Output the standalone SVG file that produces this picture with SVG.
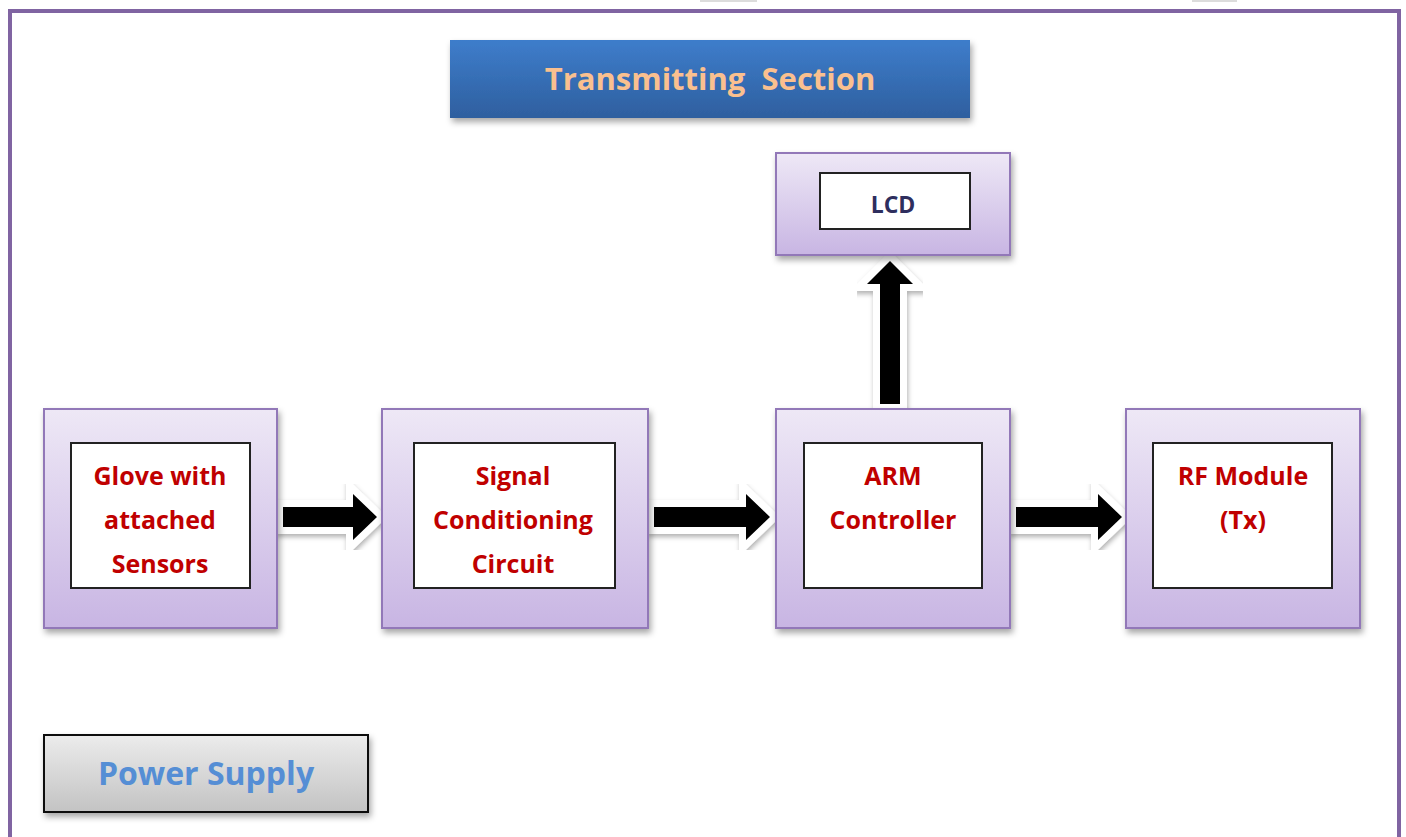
<svg xmlns="http://www.w3.org/2000/svg" width="1406" height="837" viewBox="0 0 1406 837">
<defs>
<linearGradient id="gPurple" x1="0" y1="0" x2="0" y2="1"><stop offset="0" stop-color="#eee8f6"/><stop offset="1" stop-color="#c8b5e3"/></linearGradient>
<linearGradient id="gBlue" x1="0" y1="0" x2="0" y2="1"><stop offset="0" stop-color="#3e7dcb"/><stop offset="1" stop-color="#2e5f9f"/></linearGradient>
<linearGradient id="gGray" x1="0" y1="0" x2="0" y2="1"><stop offset="0" stop-color="#ececec"/><stop offset="1" stop-color="#c3c3c3"/></linearGradient>
<filter id="sh" x="-10%" y="-10%" width="130%" height="130%"><feDropShadow dx="2" dy="4" stdDeviation="3" flood-color="#000" flood-opacity="0.35"/></filter>
<filter id="ash" x="-20%" y="-20%" width="140%" height="140%"><feDropShadow dx="1" dy="3" stdDeviation="2.5" flood-color="#000" flood-opacity="0.3"/></filter>
</defs>
<style>
.outer{fill:url(#gPurple);stroke:#9278b8;stroke-width:2;filter:url(#sh)}
.inner{fill:#fff;stroke:#222;stroke-width:2}
.lbl{font-family:"Open Sans","Liberation Sans",sans-serif;font-weight:bold;font-size:25px;fill:#c00000;text-anchor:middle}
.arrow{fill:#000;stroke:#fff;stroke-width:14;stroke-linejoin:miter;paint-order:stroke;filter:url(#ash)}
</style>
<rect width="1406" height="837" fill="#fff"/>
<rect x="700" y="0" width="57" height="2" fill="#dcdcdc"/>
<rect x="1192" y="0" width="45" height="2" fill="#dcdcdc"/>
<rect x="10" y="11" width="1389" height="840" fill="none" stroke="#8064a2" stroke-width="4"/>
<g id="title">
<rect x="450" y="40" width="520" height="78" fill="url(#gBlue)" filter="url(#sh)"/>
<text x="710" y="90" font-family="'Open Sans','Liberation Sans',sans-serif" font-weight="bold" font-size="31" fill="#fac08f" text-anchor="middle" xml:space="preserve">Transmitting  Section</text>
</g>
<g id="connectors">
<path class="arrow" d="M283,507 H353 V494 L377,517 L353,540 V527 H283 Z"/>
<path class="arrow" d="M654,507 H746 V494 L770,517 L746,540 V527 H654 Z"/>
<path class="arrow" d="M1016,507 H1098 V494 L1122,517 L1098,540 V527 H1016 Z"/>
<path class="arrow" d="M880,404 V284 H867 L890,261 L913,284 H900 V404 Z"/>
</g>
<g id="lcd">
<rect class="outer" x="776" y="153" width="234" height="102"/>
<rect class="inner" x="820" y="173" width="150" height="56"/>
<text x="893" y="213" font-family="'Open Sans','Liberation Sans',sans-serif" font-weight="bold" font-size="23" fill="#2e2e5e" text-anchor="middle">LCD</text>
</g>
<g id="glove">
<rect class="outer" x="44" y="409" width="233" height="219"/>
<rect class="inner" x="71" y="443" width="179" height="145"/>
<text class="lbl" x="160" y="485">Glove with</text>
<text class="lbl" x="160" y="529">attached</text>
<text class="lbl" x="160" y="573">Sensors</text>
</g>
<g id="signal">
<rect class="outer" x="382" y="409" width="266" height="219"/>
<rect class="inner" x="414" y="443" width="201" height="145"/>
<text class="lbl" x="513" y="485">Signal</text>
<text class="lbl" x="513" y="529">Conditioning</text>
<text class="lbl" x="513" y="573">Circuit</text>
</g>
<g id="arm">
<rect class="outer" x="776" y="409" width="234" height="219"/>
<rect class="inner" x="804" y="443" width="178" height="145"/>
<text class="lbl" x="893" y="485">ARM</text>
<text class="lbl" x="893" y="529">Controller</text>
</g>
<g id="rf">
<rect class="outer" x="1126" y="409" width="234" height="219"/>
<rect class="inner" x="1153" y="443" width="179" height="145"/>
<text class="lbl" x="1243" y="485">RF Module</text>
<text class="lbl" x="1243" y="529">(Tx)</text>
</g>
<g id="power">
<rect x="44" y="735" width="324" height="77" fill="url(#gGray)" stroke="#111" stroke-width="2" filter="url(#sh)"/>
<text x="206" y="785" font-family="'Open Sans','Liberation Sans',sans-serif" font-weight="bold" font-size="32" fill="#558ed5" text-anchor="middle">Power Supply</text>
</g>
</svg>
